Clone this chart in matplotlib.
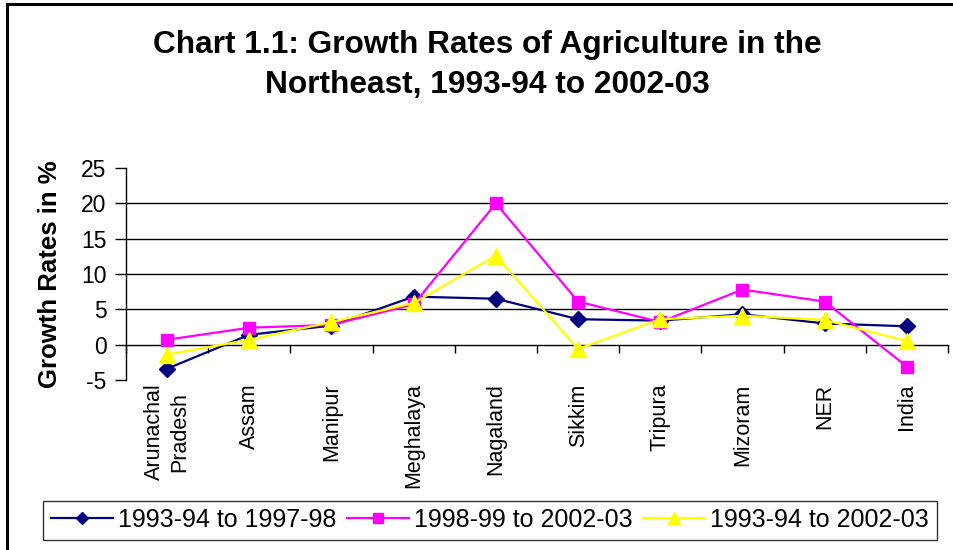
import matplotlib
matplotlib.use("Agg")
import matplotlib.pyplot as plt
from matplotlib.patches import Rectangle

states = ["Arunachal\nPradesh", "Assam", "Manipur", "Meghalaya", "Nagaland",
          "Sikkim", "Tripura", "Mizoram", "NER", "India"]
series_names = ["1993-94 to 1997-98", "1998-99 to 2002-03", "1993-94 to 2002-03"]
growth_93_98 = [-3.4, 1.4, 2.7, 6.8, 6.5, 3.6, 3.4, 4.3, 3.0, 2.6]
growth_98_03 = [0.7, 2.4, 2.8, 5.7, 20.0, 6.1, 3.2, 7.8, 6.1, -3.1]
growth_93_03 = [-1.4, 0.7, 3.2, 5.9, 12.6, -0.6, 3.6, 4.1, 3.5, 0.5]
y_ticks = [-5, 0, 5, 10, 15, 20, 25]

plt.rcParams["font.family"] = ["Liberation Sans", "DejaVu Sans"]

fig = plt.figure(figsize=(9.54, 5.5), dpi=100)
W, H = 954, 550

# outer chart frame
fig.patches.append(Rectangle((7 / W, -0.1), 1.2, 1 - 4 / H + 0.1,
                             transform=fig.transFigure, fill=False,
                             edgecolor="black", linewidth=2.2))

ax_w = 948 - 126
ax = fig.add_axes([126 / W, 1 - 380 / H, ax_w / W, (380 - 168) / H])
x = list(range(len(states)))

styles = [
    dict(color="#000080", marker="D", markersize=8),
    dict(color="#FF00FF", marker="s", markersize=9),
    dict(color="#FFFF00", marker="^", markersize=11),
]
for vals, name, st in zip([growth_93_98, growth_98_03, growth_93_03], series_names, styles):
    ax.plot(x, vals, label=name, linewidth=1.6, color=st["color"],
            marker=st["marker"], markersize=st["markersize"],
            markerfacecolor=st["color"], markeredgecolor=st["color"], zorder=3)

ax.set_xlim(-0.5, len(states) - 0.5)
ax.set_ylim(-5, 25)

for v in y_ticks:
    if 0 < v < 25:
        ax.axhline(v, color="black", linewidth=1.0, zorder=1)

ax.spines["top"].set_visible(False)
ax.spines["right"].set_visible(False)
ax.spines["left"].set_linewidth(1.0)
ax.spines["bottom"].set_position(("data", 0))
ax.spines["bottom"].set_linewidth(1.0)

ax.set_yticks(y_ticks)
ax.set_yticklabels([str(v) for v in y_ticks], fontsize=16.5)
ax.tick_params(axis="y", direction="out", length=8, width=1.0, pad=6)

ax.set_xticks(x)
ax.set_xticklabels(states, rotation=90, fontsize=15.5, va="top", ha="center",
                   linespacing=1.25)
ax.set_xticks([i + 0.5 for i in range(-1, len(states))], minor=True)
ax.tick_params(axis="x", which="major", length=0, pad=28)
ax.tick_params(axis="x", which="minor", direction="out", length=6, width=1.0)

ax.set_ylabel("Growth Rates in %", fontsize=18.5, fontweight="bold")
ax.yaxis.set_label_coords(-(126 - 50) / ax_w, 0.5)
ax.yaxis.label.set_va("center")

fig.text(487 / W, 1 - 45 / H, "Chart 1.1: Growth Rates of Agriculture in the",
         ha="center", va="center", fontsize=22.8, fontweight="bold")
fig.text(487 / W, 1 - 85 / H, "Northeast, 1993-94 to 2002-03",
         ha="center", va="center", fontsize=22.8, fontweight="bold")

leg = fig.legend(loc="center", bbox_to_anchor=(490 / W, 1 - 520 / H), ncol=3,
                 fontsize=18, frameon=True, fancybox=False, handlelength=2.5,
                 handletextpad=0.2, columnspacing=0.4, borderpad=0.3,
                 markerscale=0.8)
leg.get_frame().set_edgecolor("black")
leg.get_frame().set_linewidth(1.0)

fig.savefig("out.png", dpi=100)
